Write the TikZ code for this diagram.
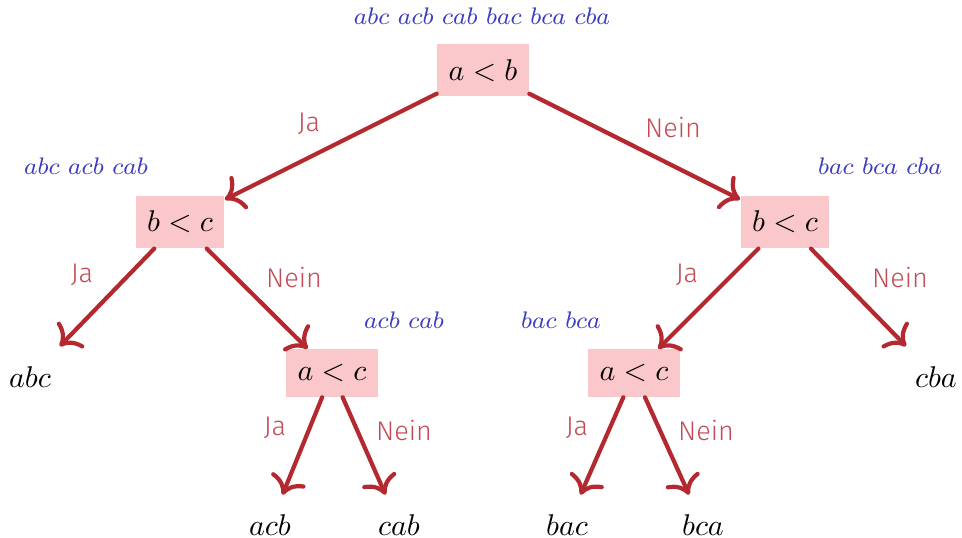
\documentclass[tikz,border=0pt]{standalone}
\usepackage{fontspec}
\newfontfamily\labfont{Fira Sans}[UprightFont=* Light]
\usetikzlibrary{arrows.meta}
\definecolor{boxfill}{RGB}{250,200,202}
\definecolor{arrowred}{RGB}{180,40,48}
\definecolor{labred}{RGB}{195,75,85}
\definecolor{setblue}{RGB}{60,60,190}
\begin{document}
\begin{tikzpicture}[x=0.3333pt,y=-0.3333pt,
  test/.style={fill=boxfill, inner xsep=3.8pt, inner ysep=5pt},
  leaf/.style={inner sep=6.6pt, font=\fontsize{10.4}{12}\selectfont},
  setlab/.style={text=setblue, font=\fontsize{8.15}{10}\selectfont},
  ans/.style={text=labred, font=\labfont\fontsize{9}{11}\selectfont},
  arr/.style={draw=arrowred, line width=1.4pt, line cap=round, -{To[scale=1.25]}}]
\useasboundingbox (0,0) rectangle (962,538);
% tests
\node[test] (r) at (483,70.5) {$a<b$};
\node[test] (l) at (180,222) {$b<c$};
\node[test] (rr) at (785,222) {$b<c$};
\node[test] (ll) at (332,373) {$a<c$};
\node[test] (rl) at (634,373) {$a<c$};
% leaves
\node[leaf] (abc) at (30,377) {$abc$};
\node[leaf] (cba) at (936,377) {$cba$};
\node[leaf] (acb) at (270,525.5) {$acb$};
\node[leaf] (cab) at (399,525.5) {$cab$};
\node[leaf] (bac) at (567,525.5) {$bac$};
\node[leaf] (bca) at (703,525.5) {$bca$};
% sets
\node[setlab] (sr) at (482,16) {$abc$ $acb$ $cab$ $bac$ $bca$ $cba$};
\node[setlab] (sl) at (86,166) {$abc$ $acb$ $cab$};
\node[setlab] (srr) at (880,166) {$bac$ $bca$ $cba$};
\node[setlab] (sll) at (404,320) {$acb$ $cab$};
\node[setlab] (srl) at (561,320) {$bac$ $bca$};
% arrows
\draw[arr] (r) -- (l);
\draw[arr] (r) -- (rr);
\draw[arr] (l) -- (abc);
\draw[arr] (l) -- (ll);
\draw[arr] (rr) -- (rl);
\draw[arr] (rr) -- (cba);
\draw[arr] (ll) -- (acb);
\draw[arr] (ll) -- (cab);
\draw[arr] (rl) -- (bac);
\draw[arr] (rl) -- (bca);
% answers
\node[ans] (a1) at (309,124) {Ja};
\node[ans] (a2) at (673,127) {Nein};
\node[ans] (a3) at (82,275) {Ja};
\node[ans] (a4) at (294,277) {Nein};
\node[ans] (a5) at (687,275) {Ja};
\node[ans] (a6) at (900,277) {Nein};
\node[ans] (a7) at (275,428) {Ja};
\node[ans] (a8) at (404,430) {Nein};
\node[ans] (a9) at (577,428) {Ja};
\node[ans] (a10) at (706,430) {Nein};
\end{tikzpicture}
\end{document}
